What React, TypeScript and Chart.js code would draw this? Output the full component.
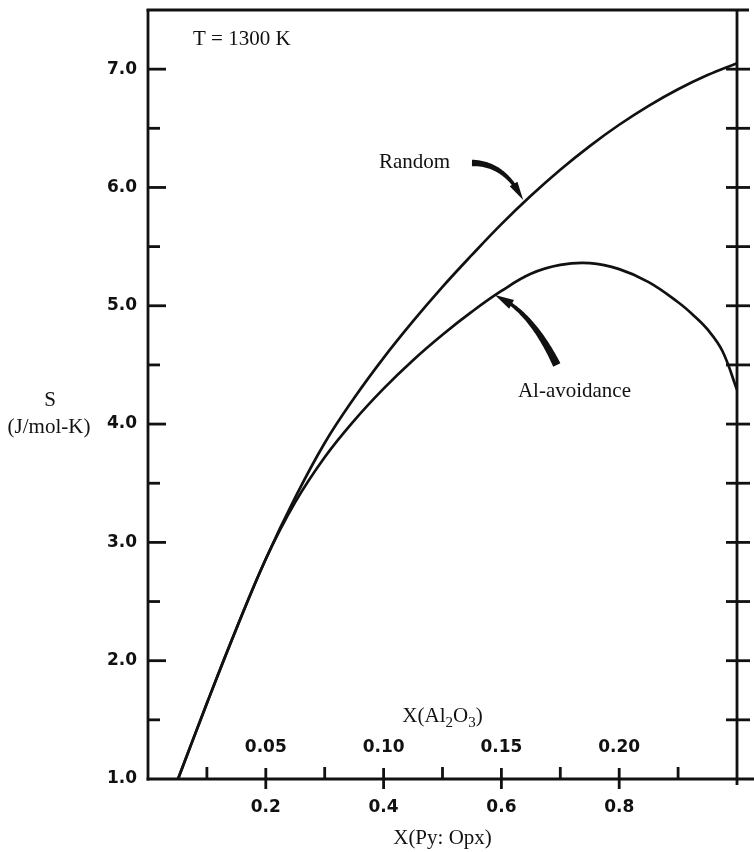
import React, { useEffect, useRef } from "react";
import { Chart, registerables } from "chart.js";

Chart.register(...registerables);

// ---- data ----
const randomX = [0.051, 0.1, 0.15, 0.2, 0.25, 0.3, 0.35, 0.4, 0.45, 0.5, 0.55, 0.6, 0.65, 0.7, 0.75, 0.8, 0.85, 0.9, 0.95, 1.0];
const randomY = [1.0, 1.64, 2.27, 2.86, 3.38, 3.84, 4.22, 4.56, 4.87, 5.16, 5.43, 5.69, 5.93, 6.15, 6.35, 6.53, 6.69, 6.83, 6.95, 7.05];

const alX = [0.051, 0.1, 0.15, 0.2, 0.25, 0.3, 0.35, 0.4, 0.45, 0.5, 0.55, 0.6, 0.65, 0.7, 0.75, 0.8, 0.85, 0.9, 0.925, 0.95, 0.975, 1.0];
const alY = [1.0, 1.64, 2.27, 2.86, 3.34, 3.72, 4.03, 4.3, 4.54, 4.755, 4.95, 5.125, 5.27, 5.345, 5.36, 5.31, 5.2, 5.03, 4.925, 4.8, 4.62, 4.29];

const xTickValues = [0.2, 0.4, 0.6, 0.8];
const xTickLabels = ["0.2", "0.4", "0.6", "0.8"];
const xMinorTicks = [0.1, 0.3, 0.5, 0.7, 0.9];
const alTickLabels = ["0.05", "0.10", "0.15", "0.20"];

const yTickValues = [1, 2, 3, 4, 5, 6, 7];
const yTickLabels = ["1.0", "2.0", "3.0", "4.0", "5.0", "6.0", "7.0"];
const yMinorTicks = [1.5, 2.5, 3.5, 4.5, 5.5, 6.5];

const X_MIN = 0;
const X_MAX = 1;
const Y_MIN = 1;
const Y_MAX = 7.5;

// annotation arrows (data units: start, control, tip)
const randomArrow = [[0.55, 6.207], [0.606, 6.207], [0.637, 5.894]];
const alArrow = [[0.694, 4.5], [0.649, 4.965], [0.589, 5.091]];

const noteTexts = ["T = 1300 K", "Random", "Al-avoidance"];
const noteX = [0.0764, 0.392, 0.628];
const noteY = [7.204, 6.165, 4.229];

const SERIF = '"Liberation Serif", "Times New Roman", serif';
const SANS = '"DejaVu Sans", sans-serif';
const INK = "#111";

function quad(p0: number[], p1: number[], p2: number[], t: number) {
  const u = 1 - t;
  return [
    u * u * p0[0] + 2 * u * t * p1[0] + t * t * p2[0],
    u * u * p0[1] + 2 * u * t * p1[1] + t * t * p2[1],
  ];
}

function drawArrow(ctx: CanvasRenderingContext2D, P: number[][], w0: number, w1: number, headLen: number, headW: number) {
  const N = 60;
  const pts: number[][] = [];
  for (let i = 0; i <= N; i++) pts.push(quad(P[0], P[1], P[2], i / N));
  const cum = [0];
  for (let i = 1; i <= N; i++) {
    cum.push(cum[i - 1] + Math.hypot(pts[i][0] - pts[i - 1][0], pts[i][1] - pts[i - 1][1]));
  }
  const L = cum[N];
  const baseL = L - headLen;
  let k = 0;
  while (k < N && cum[k] < baseL) k++;
  const left: number[][] = [];
  const right: number[][] = [];
  for (let i = 0; i <= k; i++) {
    const q = pts[Math.min(i + 1, N)];
    const r = pts[Math.max(i - 1, 0)];
    const dx = q[0] - r[0];
    const dy = q[1] - r[1];
    const len = Math.hypot(dx, dy) || 1;
    const nx = -dy / len;
    const ny = dx / len;
    const w = (w0 + ((w1 - w0) * cum[i]) / baseL) / 2;
    left.push([pts[i][0] + nx * w, pts[i][1] + ny * w]);
    right.push([pts[i][0] - nx * w, pts[i][1] - ny * w]);
  }
  ctx.beginPath();
  left.forEach((p, i) => (i === 0 ? ctx.moveTo(p[0], p[1]) : ctx.lineTo(p[0], p[1])));
  for (let i = right.length - 1; i >= 0; i--) ctx.lineTo(right[i][0], right[i][1]);
  ctx.closePath();
  ctx.fill();
  const b = pts[k];
  const tip = pts[N];
  const dx = tip[0] - b[0];
  const dy = tip[1] - b[1];
  const len = Math.hypot(dx, dy) || 1;
  const nx = -dy / len;
  const ny = dx / len;
  const back = [b[0] - (dx / len) * 2, b[1] - (dy / len) * 2];
  ctx.beginPath();
  ctx.moveTo(tip[0], tip[1]);
  ctx.lineTo(back[0] + (nx * headW) / 2, back[1] + (ny * headW) / 2);
  ctx.lineTo(back[0] - (nx * headW) / 2, back[1] - (ny * headW) / 2);
  ctx.closePath();
  ctx.fill();
}

const decorPlugin = {
  id: "decor",
  beforeDraw(chart: any) {
    const { ctx, width, height } = chart;
    ctx.save();
    ctx.fillStyle = "#fff";
    ctx.fillRect(0, 0, width, height);
    ctx.restore();
  },
  afterDraw(chart: any) {
    const { ctx, chartArea: a } = chart;
    const xs = chart.scales.x;
    const ys = chart.scales.y;
    const line = (x1: number, y1: number, x2: number, y2: number) => {
      ctx.beginPath();
      ctx.moveTo(x1, y1);
      ctx.lineTo(x2, y2);
      ctx.stroke();
    };
    ctx.save();
    ctx.strokeStyle = INK;
    ctx.fillStyle = INK;
    ctx.lineWidth = 2.8;
    ctx.lineCap = "butt";

    // frame
    line(a.left, a.top - 1, a.left, a.bottom + 1.4);
    line(a.left - 1.4, a.top, a.right + 12, a.top);
    line(a.right, a.top - 1, a.right, a.bottom + 6);
    line(a.left - 1.4, a.bottom, a.right + 17, a.bottom);

    // left axis ticks (inward)
    yTickValues.forEach((v) => {
      if (v <= Y_MIN) return;
      const py = ys.getPixelForValue(v);
      line(a.left, py, a.left + 18, py);
    });
    yMinorTicks.forEach((v) => {
      const py = ys.getPixelForValue(v);
      line(a.left, py, a.left + 12, py);
    });
    // right axis ticks (crossing)
    [...yTickValues, ...yMinorTicks].forEach((v) => {
      if (v <= Y_MIN) return;
      const py = ys.getPixelForValue(v);
      line(a.right - 11, py, a.right + 13, py);
    });
    // bottom ticks
    xTickValues.forEach((v) => {
      const px = xs.getPixelForValue(v);
      line(px, a.bottom - 11, px, a.bottom + 10);
    });
    xMinorTicks.forEach((v) => {
      const px = xs.getPixelForValue(v);
      line(px, a.bottom - 12, px, a.bottom);
    });

    // secondary scale labels X(Al2O3)
    ctx.font = `bold 17px ${SANS}`;
    ctx.textAlign = "center";
    ctx.textBaseline = "middle";
    xTickValues.forEach((v, i) => {
      ctx.fillText(alTickLabels[i], xs.getPixelForValue(v), a.bottom - 31);
    });

    // X(Al2O3) title with subscripts
    ctx.textBaseline = "alphabetic";
    ctx.textAlign = "left";
    const big = `21px ${SERIF}`;
    const small = `15px ${SERIF}`;
    const parts: [string, boolean][] = [["X(Al", false], ["2", true], ["O", false], ["3", true], [")", false]];
    let total = 0;
    parts.forEach(([t, sub]) => {
      ctx.font = sub ? small : big;
      total += ctx.measureText(t).width;
    });
    let cx = xs.getPixelForValue(0.5) - total / 2;
    const baseY = a.bottom - 57;
    parts.forEach(([t, sub]) => {
      ctx.font = sub ? small : big;
      ctx.fillText(t, cx, sub ? baseY + 5 : baseY);
      cx += ctx.measureText(t).width;
    });

    // bottom axis title
    ctx.font = big;
    ctx.textAlign = "center";
    ctx.fillText("X(Py: Opx)", xs.getPixelForValue(0.5), a.bottom + 65);

    // y axis title (horizontal)
    const y4 = ys.getPixelForValue(4);
    ctx.fillText("S", a.left - 98, y4 - 18);
    ctx.fillText("(J/mol-K)", a.left - 99, y4 + 9);

    // notes
    ctx.textAlign = "left";
    noteTexts.forEach((t, i) => {
      ctx.fillText(t, xs.getPixelForValue(noteX[i]), ys.getPixelForValue(noteY[i]));
    });

    // arrows
    const toPx = (arr: number[][]) => arr.map((p) => [xs.getPixelForValue(p[0]), ys.getPixelForValue(p[1])]);
    drawArrow(ctx, toPx(randomArrow), 6.5, 3.4, 17, 9);
    drawArrow(ctx, toPx(alArrow), 8, 3.4, 18, 10);

    ctx.restore();
  },
};

export default function App() {
  const canvasRef = useRef<HTMLCanvasElement | null>(null);

  useEffect(() => {
    const canvas = canvasRef.current;
    if (!canvas) return;
    const chart = new Chart(canvas, {
      type: "line",
      data: {
        datasets: [
          {
            label: "Random",
            data: randomX.map((x, i) => ({ x, y: randomY[i] })),
            borderColor: INK,
            borderWidth: 2.7,
            pointRadius: 0,
            fill: false,
            tension: 0.4,
          },
          {
            label: "Al-avoidance",
            data: alX.map((x, i) => ({ x, y: alY[i] })),
            borderColor: INK,
            borderWidth: 2.7,
            pointRadius: 0,
            fill: false,
            tension: 0.4,
          },
        ],
      },
      options: {
        responsive: false,
        animation: false,
        devicePixelRatio: 1,
        layout: { padding: { top: 10, right: 17, left: 0, bottom: 0 } },
        plugins: {
          legend: { display: false },
          tooltip: { enabled: false },
        },
        scales: {
          x: {
            type: "linear",
            min: X_MIN,
            max: X_MAX,
            grid: { display: false, drawTicks: false },
            border: { display: false },
            afterBuildTicks: (s: any) => {
              s.ticks = xTickValues.map((v) => ({ value: v }));
            },
            afterFit: (s: any) => {
              s.height = 73;
              s.paddingLeft = 0;
              s.paddingRight = 0;
            },
            ticks: {
              autoSkip: false,
              maxRotation: 0,
              padding: 18,
              color: INK,
              font: { family: SANS, size: 17, weight: "bold" },
              callback: (_v: any, i: number) => xTickLabels[i],
            },
          },
          y: {
            type: "linear",
            min: Y_MIN,
            max: Y_MAX,
            grid: { display: false, drawTicks: false },
            border: { display: false },
            afterBuildTicks: (s: any) => {
              s.ticks = yTickValues.map((v) => ({ value: v }));
            },
            afterFit: (s: any) => {
              s.width = 148;
              s.paddingTop = 0;
              s.paddingBottom = 0;
            },
            ticks: {
              autoSkip: false,
              padding: 11,
              color: INK,
              font: { family: SANS, size: 17, weight: "bold" },
              callback: (_v: any, i: number) => yTickLabels[i],
            },
          },
        },
      },
      plugins: [decorPlugin],
    } as any);
    return () => chart.destroy();
  }, []);

  return (
    <div style={{ position: "fixed", left: 0, top: 0, width: 754, height: 852, background: "#fff" }}>
      <canvas ref={canvasRef} width={754} height={852} style={{ display: "block" }} />
    </div>
  );
}
